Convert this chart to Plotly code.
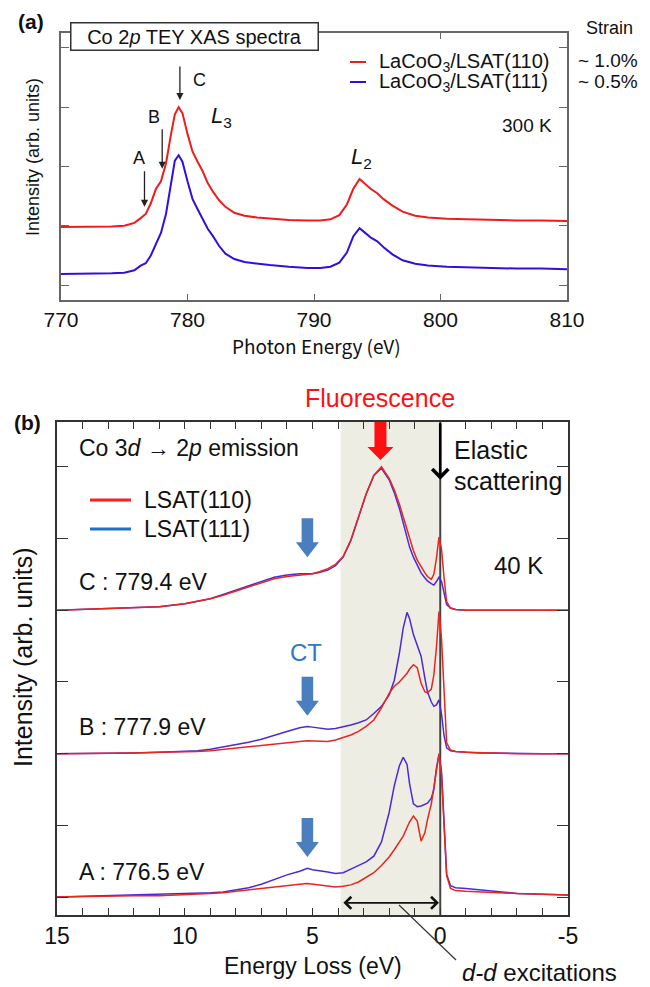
import plotly.graph_objects as go

W, H = 650, 987

# ---------------- Panel (a): Co 2p TEY XAS ----------------
xas_energy = [770, 772, 774, 775, 775.8, 776.3, 776.7, 777.1, 777.5, 777.9, 778.3, 778.7,
              779.0, 779.3, 779.6, 780.0, 780.4, 780.8, 781.2, 781.6, 782.0, 782.5, 783.0,
              783.7, 784.5, 785.5, 786.5, 788, 789.5, 790.5, 791.3, 792.0, 792.6, 793.1,
              793.6, 794.0, 794.5, 795.0, 795.5, 796.2, 797, 798, 799, 800.5, 802, 804,
              806, 808, 810]
xas_lsat110 = [0.98, 0.98, 0.99, 1.00, 1.05, 1.13, 1.20, 1.38, 1.62, 1.75, 2.05, 2.55,
               2.88, 3.00, 2.90, 2.55, 2.25, 2.08, 1.92, 1.72, 1.58, 1.43, 1.32,
               1.22, 1.17, 1.14, 1.12, 1.10, 1.09, 1.09, 1.11, 1.18, 1.36, 1.62,
               1.79, 1.72, 1.62, 1.55, 1.45, 1.34, 1.24, 1.17, 1.14, 1.12, 1.11, 1.10,
               1.09, 1.09, 1.08]
xas_lsat111 = [0.19, 0.19, 0.20, 0.21, 0.25, 0.33, 0.37, 0.50, 0.70, 0.88, 1.20, 1.75,
               2.10, 2.19, 2.08, 1.75, 1.45, 1.28, 1.12, 0.95, 0.83, 0.66, 0.53,
               0.44, 0.39, 0.36, 0.34, 0.31, 0.29, 0.29, 0.31, 0.38, 0.55, 0.82,
               0.96, 0.89, 0.80, 0.74, 0.64, 0.52, 0.42, 0.36, 0.33, 0.31, 0.30, 0.29,
               0.28, 0.28, 0.27]
a_xticks = [770, 780, 790, 800, 810]

# ---------------- Panel (b): Co 3d -> 2p emission (RIXS) ----------------
rixs_loss = [15, 14, 13, 12, 11, 10, 9.5, 9, 8.5, 8, 7.5, 7, 6.5, 6, 5.5, 5.2, 5, 4.7, 4.4,
             4.1, 3.8, 3.5, 3.2, 2.9, 2.6, 2.3, 2.0, 1.8, 1.6, 1.45, 1.3, 1.2, 1.05, 0.9,
             0.75, 0.6, 0.5, 0.35, 0.25, 0.15, 0.05, -0.05, -0.15, -0.25, -0.4, -0.6, -1,
             -1.5, -2, -3, -4, -5]
C_110 = [4.00, 4.01, 4.02, 4.03, 4.05, 4.09, 4.12, 4.16, 4.21, 4.27, 4.33, 4.39, 4.44, 4.47,
         4.49, 4.50, 4.51, 4.54, 4.58, 4.64, 4.75, 4.98, 5.30, 5.62, 5.88, 6.00, 5.84, 5.68,
         5.48, 5.30, 5.10, 4.98, 4.83, 4.70, 4.60, 4.52, 4.47, 4.43, 4.50, 4.72, 5.02, 4.85,
         4.45, 4.12, 4.03, 4.01, 4.00, 4.00, 4.00, 4.00, 4.00, 4.00]
C_111 = [4.00, 4.01, 4.02, 4.03, 4.05, 4.09, 4.12, 4.16, 4.22, 4.28, 4.35, 4.41, 4.46, 4.49,
         4.51, 4.51, 4.51, 4.53, 4.56, 4.62, 4.74, 4.97, 5.28, 5.62, 5.88, 5.98, 5.82, 5.64,
         5.42, 5.22, 5.00, 4.88, 4.74, 4.62, 4.52, 4.45, 4.41, 4.37, 4.35, 4.40, 4.46, 4.40,
         4.25, 4.08, 4.03, 4.01, 4.00, 4.00, 4.00, 4.00, 4.00, 4.00]
B_110 = [2.00, 2.00, 2.01, 2.01, 2.02, 2.02, 2.03, 2.04, 2.06, 2.08, 2.10, 2.12, 2.14, 2.16,
         2.17, 2.18, 2.18, 2.17, 2.17, 2.19, 2.22, 2.26, 2.31, 2.38, 2.47, 2.64, 2.84, 2.94,
         3.00, 3.06, 3.12, 3.18, 3.24, 3.20, 2.98, 2.86, 2.85, 2.90, 3.10, 3.48, 3.98, 3.60,
         2.80, 2.15, 2.05, 2.03, 2.02, 2.01, 2.01, 2.00, 2.00, 2.00]
B_111 = [2.00, 2.00, 2.01, 2.01, 2.02, 2.03, 2.04, 2.06, 2.09, 2.12, 2.16, 2.20, 2.26, 2.31,
         2.36, 2.38, 2.37, 2.35, 2.34, 2.35, 2.37, 2.40, 2.43, 2.47, 2.56, 2.66, 2.82, 3.02,
         3.40, 3.75, 3.97, 3.88, 3.66, 3.50, 3.36, 3.05, 2.86, 2.72, 2.66, 2.68, 2.75, 2.55,
         2.25, 2.08, 2.04, 2.03, 2.02, 2.01, 2.01, 2.00, 2.00, 2.00]
A_110 = [0.00, 0.01, 0.01, 0.02, 0.02, 0.03, 0.04, 0.05, 0.06, 0.08, 0.11, 0.13, 0.15, 0.17,
         0.18, 0.19, 0.18, 0.17, 0.16, 0.14, 0.15, 0.17, 0.21, 0.27, 0.34, 0.44, 0.56, 0.66,
         0.76, 0.85, 0.97, 1.05, 1.13, 1.06, 0.78, 0.90, 1.08, 1.30, 1.53, 1.78, 2.00, 1.70,
         1.00, 0.30, 0.12, 0.09, 0.08, 0.07, 0.06, 0.05, 0.04, 0.03]
A_111 = [0.00, 0.01, 0.01, 0.02, 0.03, 0.04, 0.05, 0.06, 0.07, 0.10, 0.13, 0.18, 0.25, 0.31,
         0.36, 0.40, 0.38, 0.37, 0.35, 0.33, 0.34, 0.39, 0.44, 0.49, 0.57, 0.77, 1.18, 1.55,
         1.83, 1.95, 1.85, 1.58, 1.30, 1.26, 1.27, 1.30, 1.31, 1.38, 1.50, 1.80, 1.98, 1.75,
         1.05, 0.32, 0.16, 0.13, 0.12, 0.10, 0.08, 0.05, 0.04, 0.03]
b_xticks = [15, 10, 5, 0, -5]
b_xticklabels = ["15", "10", "5", "0", "-5"]
ct_arrow_loss = 5.2
ct_arrow_tips = [4.74, 2.53, 0.56]
fluor_loss = 2.34

RED_A, BLUE_A = "#f01c1c", "#3010e0"
RED_B, BLUE_B = "#e8251f", "#4a2ad8"
FONT = "Liberation Sans, Arial, sans-serif"


def PX(x):
    return x / W


def PY(y):
    return 1 - y / H


fig = go.Figure()
fig.add_trace(go.Scatter(x=xas_energy, y=xas_lsat111, mode="lines", line=dict(color=BLUE_A, width=2),
                         xaxis="x", yaxis="y", showlegend=False))
fig.add_trace(go.Scatter(x=xas_energy, y=xas_lsat110, mode="lines", line=dict(color=RED_A, width=2),
                         xaxis="x", yaxis="y", showlegend=False))
for blue, red in [(A_111, A_110), (B_111, B_110), (C_111, C_110)]:
    fig.add_trace(go.Scatter(x=rixs_loss, y=blue, mode="lines", line=dict(color=BLUE_B, width=1.5),
                             xaxis="x2", yaxis="y2", showlegend=False))
    fig.add_trace(go.Scatter(x=rixs_loss, y=red, mode="lines", line=dict(color=RED_B, width=1.5),
                             xaxis="x2", yaxis="y2", showlegend=False))

axA = dict(showline=True, linecolor="#666", linewidth=1.5, mirror="ticks", ticks="inside",
           tickcolor="#666", showgrid=False, zeroline=False, automargin=False)
axB = dict(showline=True, linecolor="#333", linewidth=1.5, mirror="ticks", ticks="inside",
           tickcolor="#333", showgrid=False, zeroline=False, automargin=False)

fig.update_layout(
    width=W, height=H, autosize=False, margin=dict(l=0, r=0, t=0, b=0, pad=0),
    paper_bgcolor="white", plot_bgcolor="rgba(0,0,0,0)",
    font=dict(family=FONT, color="#111"),
    xaxis=dict(**axA, domain=[PX(61), PX(567)], range=[770, 810], tickvals=a_xticks, ticklen=6,
               tickfont=dict(size=21, color="#111"), anchor="y"),
    yaxis=dict(**axA, domain=[PY(300), PY(33)], range=[-0.25, 4.25], dtick=1, tick0=0, ticklen=8,
               showticklabels=False, anchor="x"),
    xaxis2=dict(**axB, domain=[PX(57), PX(568)], range=[15, -5], tickvals=b_xticks,
                ticktext=b_xticklabels, ticklen=7,
                minor=dict(dtick=1, tick0=0, ticks="inside", ticklen=7, tickcolor="#333"),
                tickfont=dict(size=23, color="#111"), anchor="y2"),
    yaxis2=dict(**axB, domain=[PY(915), PY(422)], range=[-0.25, 6.625], dtick=1, tick0=0, ticklen=11,
                showticklabels=False, anchor="x2"),
)

shapes = []
# shaded d-d region and elastic line
shapes.append(dict(type="rect", xref="x2", yref="y2 domain", x0=3.9, x1=0, y0=0, y1=1,
                   fillcolor="#eeede4", line=dict(width=0), layer="below"))
shapes.append(dict(type="line", xref="x2", yref="y2 domain", x0=0, x1=0, y0=0, y1=1,
                   line=dict(color="#444", width=2), layer="below"))


def down_arrow(xv, yv, xref, yref, sw, hw, hh, total, color):
    path = (f"M0,0 L{-hw},{hh} L{-sw},{hh} L{-sw},{total} L{sw},{total} "
            f"L{sw},{hh} L{hw},{hh} Z")
    return dict(type="path", xref=xref, yref=yref, xsizemode="pixel", ysizemode="pixel",
                xanchor=xv, yanchor=yv, path=path, fillcolor=color, line=dict(width=0),
                layer="above")


shapes.append(down_arrow(fluor_loss, 6.095, "x2", "y2", 6, 13, 13, 40, "#ff1010"))
for tip in ct_arrow_tips:
    shapes.append(down_arrow(ct_arrow_loss, tip, "x2", "y2", 5.8, 11.5, 15, 39, "#4a7ebf"))

# legends as drawn line samples
shapes.append(dict(type="line", xref="paper", yref="paper", x0=PX(350), x1=PX(366), y0=PY(62), y1=PY(62),
                   line=dict(color=RED_A, width=2)))
shapes.append(dict(type="line", xref="paper", yref="paper", x0=PX(350), x1=PX(366), y0=PY(82), y1=PY(82),
                   line=dict(color=BLUE_A, width=2)))
shapes.append(dict(type="line", xref="paper", yref="paper", x0=PX(90), x1=PX(131), y0=PY(500), y1=PY(500),
                   line=dict(color="#ff1e1e", width=3)))
shapes.append(dict(type="line", xref="paper", yref="paper", x0=PX(90), x1=PX(131), y0=PY(529), y1=PY(529),
                   line=dict(color="#1f6fd0", width=3)))
# leader line for d-d excitations
shapes.append(dict(type="line", xref="paper", yref="paper", x0=PX(399), x1=PX(456), y0=PY(905), y1=PY(960),
                   line=dict(color="#333", width=1.2)))
fig.update_layout(shapes=shapes)

ann = []


def txt(text, x, y, size, xanchor="center", color="#111", **kw):
    ann.append(dict(text=text, x=PX(x), y=PY(y), xref="paper", yref="paper", showarrow=False,
                    xanchor=xanchor, yanchor="middle", font=dict(size=size, color=color,
                                                                  family=kw.pop("family", FONT)), **kw))


# Panel (a) texts
txt("<b>(a)</b>", 31, 22, 21)
txt("Co 2<i>p</i> TEY XAS spectra", 194, 36, 20, bgcolor="white", bordercolor="#333",
    borderwidth=1.5, borderpad=2, width=242, height=22)
txt("LaCoO<sub>3</sub>/LSAT(110)", 377, 62, 20, xanchor="left")
txt("LaCoO<sub>3</sub>/LSAT(111)", 377, 82, 20, xanchor="left")
txt("Strain", 609, 28, 18)
txt("~ 1.0%", 576, 61, 19, xanchor="left")
txt("~ 0.5%", 576, 81, 19, xanchor="left")
txt("300 K", 527, 125, 19)
txt("A", 139, 158, 18)
txt("B", 154, 117, 18)
txt("C", 199, 80, 18)
txt("<i>L</i><sub>3</sub>", 221, 117, 22)
txt("<i>L</i><sub>2</sub>", 361, 158, 22)
txt("Intensity (arb. units)", 33, 157, 18, textangle=-90)
txt("Photon Energy (eV)", 316, 345, 19, family="Noto Sans CJK JP")

# Panel (b) texts
txt("<b>(b)</b>", 27, 422, 21)
txt("Fluorescence", 380, 398, 25, color="#ff1010")
txt("Co 3<i>d</i> → 2<i>p</i> emission", 77, 448, 23, xanchor="left")
txt("Elastic", 452, 450, 25, xanchor="left")
txt("scattering", 452, 481, 25, xanchor="left")
txt("LSAT(110)", 142, 500, 23, xanchor="left")
txt("LSAT(111)", 142, 529, 23, xanchor="left")
txt("40 K", 518, 565, 24)
txt("CT", 306, 652, 24, color="#2e78c4")
txt("C : 779.4 eV", 77, 582, 23, xanchor="left")
txt("B : 777.9 eV", 77, 727, 23, xanchor="left")
txt("A : 776.5 eV", 77, 872, 23, xanchor="left")
txt("Intensity (arb. units)", 23, 657, 25, textangle=-90)
txt("Energy Loss (eV)", 313, 966, 23)
txt("<i>d-d</i> excitations", 460, 972, 24, xanchor="left")

# small arrows in (a)
for xv, yv, ay in [(776.6, 1.32, -37), (778.0, 1.96, -41), (779.4, 3.12, -35)]:
    ann.append(dict(x=xv, y=yv, xref="x", yref="y", ax=0, ay=ay, showarrow=True, text="",
                    arrowhead=2, arrowsize=1.1, arrowwidth=1.3, arrowcolor="#222"))
# elastic arrow
ann.append(dict(x=0, y=5.82, xref="x2", yref="y2", ax=0, ay=-58, showarrow=True, text="",
                arrowhead=4, arrowsize=1.2, arrowwidth=2.6, arrowcolor="#000"))
# d-d double arrow
ann.append(dict(x=0.05, y=-0.08, xref="x2", yref="y2", ax=3.85, ay=-0.08, axref="x2", ayref="y2",
                showarrow=True, text="", arrowside="end+start", arrowhead=4, startarrowhead=4,
                arrowsize=1.3, startarrowsize=1.3, arrowwidth=1.8, arrowcolor="#111"))
fig.update_layout(annotations=ann)

fig.write_html("out.html", config={"displayModeBar": False},
               post_script="document.body.style.margin='0px';document.body.style.overflow='hidden';")
